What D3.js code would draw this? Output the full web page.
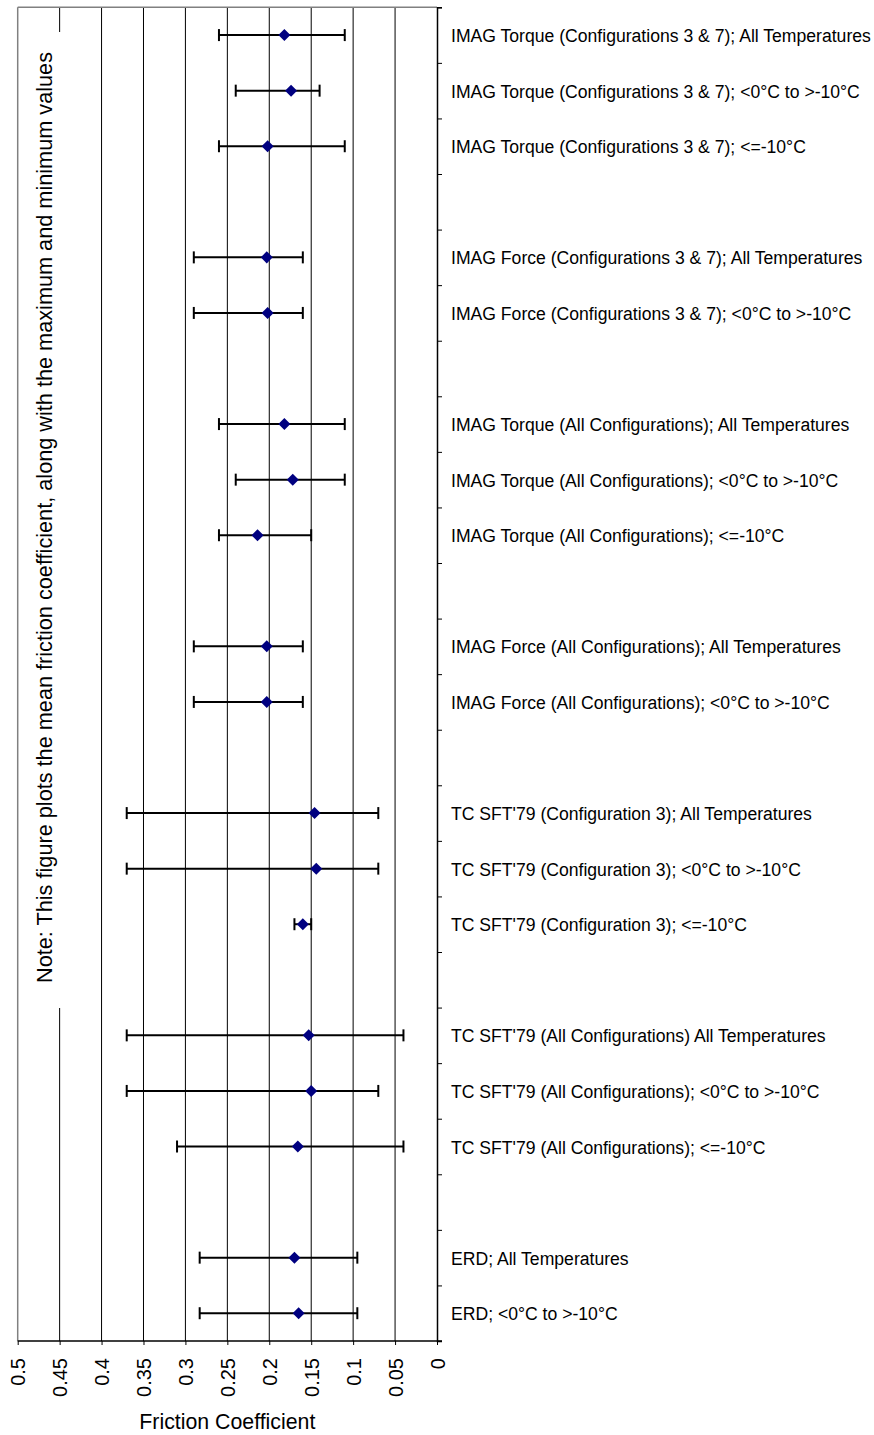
<!DOCTYPE html>
<html>
<head>
<meta charset="utf-8">
<script src="https://cdn.jsdelivr.net/npm/d3@7"></script>
<style>
  html, body { margin: 0; padding: 0; background: #fff; }
  svg { display: block; font-family: "Liberation Sans", Arial, sans-serif; }
</style>
</head>
<body>
<svg id="chart" width="874" height="1435"></svg>
<script>
// Row labels, top to bottom; empty strings are spacer rows between groups.
const labels = [
  "IMAG Torque (Configurations 3 & 7); All Temperatures",
  "IMAG Torque (Configurations 3 & 7); <0°C to >-10°C",
  "IMAG Torque (Configurations 3 & 7); <=-10°C",
  "",
  "IMAG Force (Configurations 3 & 7); All Temperatures",
  "IMAG Force (Configurations 3 & 7); <0°C to >-10°C",
  "",
  "IMAG Torque (All Configurations); All Temperatures",
  "IMAG Torque (All Configurations); <0°C to >-10°C",
  "IMAG Torque (All Configurations); <=-10°C",
  "",
  "IMAG Force (All Configurations); All Temperatures",
  "IMAG Force (All Configurations); <0°C to >-10°C",
  "",
  "TC SFT'79 (Configuration 3); All Temperatures",
  "TC SFT'79 (Configuration 3); <0°C to >-10°C",
  "TC SFT'79 (Configuration 3); <=-10°C",
  "",
  "TC SFT'79 (All Configurations) All Temperatures",
  "TC SFT'79 (All Configurations); <0°C to >-10°C",
  "TC SFT'79 (All Configurations); <=-10°C",
  "",
  "ERD; All Temperatures",
  "ERD; <0°C to >-10°C"
];

// Mean friction coefficient per row
const meanValues = [0.182, 0.174, 0.202, null, 0.203, 0.202, null, 0.182, 0.172, 0.214, null,
  0.203, 0.203, null, 0.146, 0.144, 0.160, null, 0.153, 0.150, 0.166, null, 0.170, 0.165];

// Minimum friction coefficient per row
const minValues = [0.11, 0.14, 0.11, null, 0.16, 0.16, null, 0.11, 0.11, 0.15, null,
  0.16, 0.16, null, 0.07, 0.07, 0.15, null, 0.04, 0.07, 0.04, null, 0.095, 0.095];

// Maximum friction coefficient per row
const maxValues = [0.26, 0.24, 0.26, null, 0.29, 0.29, null, 0.26, 0.24, 0.26, null,
  0.29, 0.29, null, 0.37, 0.37, 0.17, null, 0.37, 0.37, 0.31, null, 0.283, 0.283];

const xTickValues = [0.5, 0.45, 0.4, 0.35, 0.3, 0.25, 0.2, 0.15, 0.1, 0.05, 0];
const xTickLabels = ["0.5", "0.45", "0.4", "0.35", "0.3", "0.25", "0.2", "0.15", "0.1", "0.05", "0"];

const noteText = "Note: This figure plots the mean friction coefficient, along with the maximum and minimum values";
const xTitle = "Friction Coefficient";

const plot = { left: 17.7, right: 437, top: 7.3, bottom: 1341 };

const svg = d3.select("#chart");

// Reversed x axis: 0.5 on the left, 0 on the right
const x = d3.scaleLinear().domain([0.5, 0]).range([plot.left, plot.right]);
// Row positions: row i occupies [i, i+1]
const y = d3.scaleLinear().domain([0, labels.length]).range([plot.top, plot.bottom]);

const rows = labels.map((label, i) => ({
  label, mean: meanValues[i], min: minValues[i], max: maxValues[i], i
}));

// Vertical gridlines
svg.append("g")
  .selectAll("line")
  .data(xTickValues.filter(v => v !== 0.5 && v !== 0))
  .join("line")
  .attr("x1", d => x(d)).attr("x2", d => x(d))
  .attr("y1", plot.top).attr("y2", plot.bottom)
  .attr("stroke", "#000").attr("stroke-width", 1);

// Plot area frame (left and top edges)
svg.append("line")
  .attr("x1", plot.left).attr("x2", plot.left)
  .attr("y1", plot.top).attr("y2", plot.bottom)
  .attr("stroke", "#808080").attr("stroke-width", 1.5);
svg.append("line")
  .attr("x1", plot.left).attr("x2", plot.right)
  .attr("y1", plot.top).attr("y2", plot.top)
  .attr("stroke", "#808080").attr("stroke-width", 1.5);

// Note box with rotated text
svg.append("rect")
  .attr("x", 24).attr("y", 32)
  .attr("width", 62).attr("height", 976)
  .attr("fill", "#fff");
svg.append("text")
  .attr("transform", `translate(52,${(52 + 983) / 2}) rotate(-90)`)
  .attr("text-anchor", "middle")
  .attr("font-size", 21.7)
  .attr("fill", "#000")
  .text(noteText);

// Right-hand category axis with ticks between rows
const yAxis = svg.append("g")
  .attr("transform", `translate(${plot.right},0)`)
  .call(d3.axisRight(y).tickValues(d3.range(labels.length + 1)).tickSize(5).tickFormat(""));
yAxis.select(".domain").attr("stroke", "#000").attr("stroke-width", 1.5);
yAxis.selectAll(".tick line").attr("stroke", "#000");

// Row labels
svg.append("g")
  .selectAll("text")
  .data(rows.filter(r => r.label))
  .join("text")
  .attr("x", 451)
  .attr("y", r => y(r.i + 0.5) + 7)
  .attr("font-size", 17.6)
  .attr("fill", "#000")
  .text(r => r.label);

// Bottom axis
const xAxis = svg.append("g")
  .attr("transform", `translate(0,${plot.bottom})`)
  .call(d3.axisBottom(x).tickValues(xTickValues).tickSize(4)
    .tickFormat((d, i) => xTickLabels[i]));
xAxis.select(".domain").attr("stroke", "#000").attr("stroke-width", 1.5)
  .attr("d", `M${plot.left},0H${plot.right + 5}`);
xAxis.selectAll(".tick line").attr("stroke", "#000");
xAxis.selectAll(".tick text")
  .attr("font-size", 20)
  .attr("font-family", "Liberation Sans, Arial, sans-serif")
  .attr("fill", "#000")
  .attr("text-anchor", "end")
  .attr("transform", "rotate(-90)")
  .attr("x", -17)
  .attr("y", 0)
  .attr("dy", "0.36em");

// Axis title
svg.append("text")
  .attr("x", (plot.left + plot.right) / 2)
  .attr("y", 1429)
  .attr("text-anchor", "middle")
  .attr("font-size", 21.3)
  .attr("fill", "#000")
  .text(xTitle);

// Error bars (min to max) with end caps
const data = rows.filter(r => r.mean !== null);
const capHalf = 6;
const bars = svg.append("g").attr("stroke", "#000").attr("stroke-width", 2);
bars.selectAll("line.range")
  .data(data)
  .join("line")
  .attr("class", "range")
  .attr("x1", r => x(r.max)).attr("x2", r => x(r.min))
  .attr("y1", r => y(r.i + 0.5)).attr("y2", r => y(r.i + 0.5));
bars.selectAll("line.capmax")
  .data(data)
  .join("line")
  .attr("class", "capmax")
  .attr("x1", r => x(r.max)).attr("x2", r => x(r.max))
  .attr("y1", r => y(r.i + 0.5) - capHalf).attr("y2", r => y(r.i + 0.5) + capHalf);
bars.selectAll("line.capmin")
  .data(data)
  .join("line")
  .attr("class", "capmin")
  .attr("x1", r => x(r.min)).attr("x2", r => x(r.min))
  .attr("y1", r => y(r.i + 0.5) - capHalf).attr("y2", r => y(r.i + 0.5) + capHalf);

// Mean markers (navy diamonds)
const diamond = d3.symbol().type(d3.symbolDiamond2).size(92);
svg.append("g")
  .selectAll("path")
  .data(data)
  .join("path")
  .attr("transform", r => `translate(${x(r.mean)},${y(r.i + 0.5)})`)
  .attr("d", diamond)
  .attr("fill", "#000080");
</script>
</body>
</html>
